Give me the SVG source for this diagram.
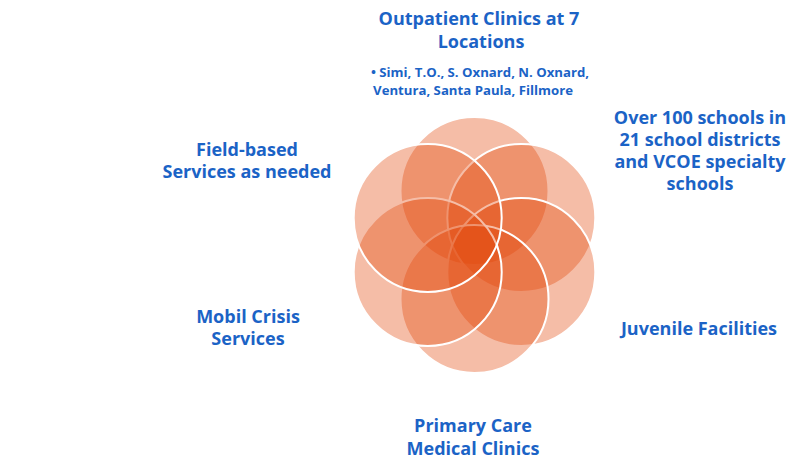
<svg xmlns="http://www.w3.org/2000/svg" width="787" height="466" viewBox="0 0 787 466">
<style>
.c{fill:#E2480C;fill-opacity:0.36;stroke:#fff;stroke-width:2}
.t{font-family:"Open Sans",Lato,"Liberation Sans",sans-serif;font-weight:700;fill:#1B63C6;text-anchor:middle}
.m{font-size:18px}
.s{font-size:13.2px}
</style>
<g id="cluster">
<circle id="c-top" class="c" cx="474.5" cy="191" r="74"/>
<circle id="c-topright" class="c" cx="521.3" cy="218" r="74"/>
<circle id="c-bottomright" class="c" cx="521.3" cy="272" r="74"/>
<circle id="c-bottom" class="c" cx="474.5" cy="299" r="74"/>
<circle id="c-bottomleft" class="c" cx="427.7" cy="272" r="74"/>
<circle id="c-topleft" class="c" cx="427.7" cy="218" r="74"/>
</g>
<g id="outpatient">
<text class="t m" x="479" y="25">Outpatient Clinics at 7</text>
<text class="t m" x="481" y="48">Locations</text>
<text class="t s" x="480" y="77">• Simi, T.O., S. Oxnard, N. Oxnard,</text>
<text class="t s" x="473" y="95">Ventura, Santa Paula, Fillmore</text>
</g>
<g id="schools">
<text class="t m" x="700" y="124">Over 100 schools in</text>
<text class="t m" x="700" y="146">21 school districts</text>
<text class="t m" x="700" y="168">and VCOE specialty</text>
<text class="t m" x="700" y="190">schools</text>
</g>
<g id="field">
<text class="t m" x="247" y="156">Field-based</text>
<text class="t m" x="247" y="178">Services as needed</text>
</g>
<g id="mobil">
<text class="t m" x="248" y="323">Mobil Crisis</text>
<text class="t m" x="248" y="345">Services</text>
</g>
<g id="juvenile">
<text class="t m" x="699" y="335">Juvenile Facilities</text>
</g>
<g id="primary">
<text class="t m" x="473" y="432">Primary Care</text>
<text class="t m" x="473" y="455">Medical Clinics</text>
</g>
<g id="connectors"/>
</svg>
